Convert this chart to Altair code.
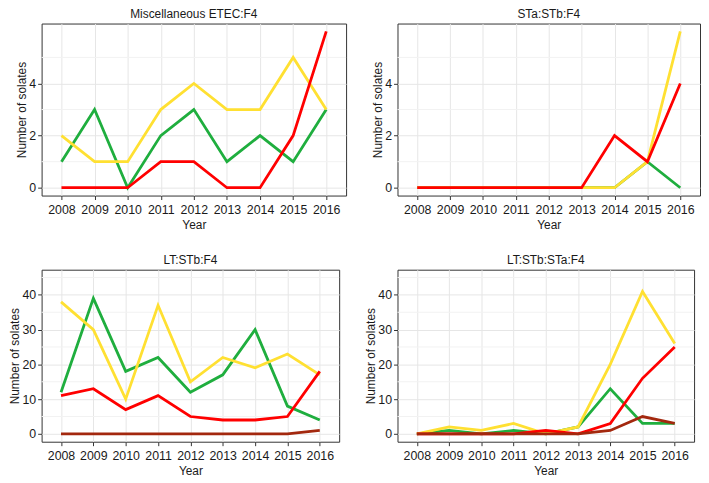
import altair as alt
import pandas as pd

years = [2008, 2009, 2010, 2011, 2012, 2013, 2014, 2015, 2016]

panel_titles = ["Miscellaneous ETEC:F4", "STa:STb:F4", "LT:STb:F4", "LT:STb:STa:F4"]

# series values per panel (green, yellow, red, brown)
misc_green = [1, 3, 0, 2, 3, 1, 2, 1, 3]
misc_yellow = [2, 1, 1, 3, 4, 3, 3, 5, 3]
misc_red = [0, 0, 0, 1, 1, 0, 0, 2, 6]

stastb_green = [0, 0, 0, 0, 0, 0, 0, 1, 0]
stastb_yellow = [0, 0, 0, 0, 0, 0, 0, 1, 6]
stastb_red = [0, 0, 0, 0, 0, 0, 2, 1, 4]

ltstb_green = [12, 39, 18, 22, 12, 17, 30, 8, 4]
ltstb_yellow = [38, 30, 10, 37, 15, 22, 19, 23, 17]
ltstb_red = [11, 13, 7, 11, 5, 4, 4, 5, 18]
ltstb_brown = [0, 0, 0, 0, 0, 0, 0, 0, 1]

ltstbsta_green = [0, 1, 0, 1, 0, 2, 13, 3, 3]
ltstbsta_yellow = [0, 2, 1, 3, 0, 2, 20, 41, 26]
ltstbsta_red = [0, 0, 0, 0, 1, 0, 3, 16, 25]
ltstbsta_brown = [0, 0, 0, 0, 0, 0, 1, 5, 3]

series_colors = {
    "green": "#1FAE3E",
    "yellow": "#FFE032",
    "red": "#FF0000",
    "brown": "#A3280E",
}

panel_series = {
    "Miscellaneous ETEC:F4": {"green": misc_green, "yellow": misc_yellow, "red": misc_red},
    "STa:STb:F4": {"green": stastb_green, "yellow": stastb_yellow, "red": stastb_red},
    "LT:STb:F4": {"green": ltstb_green, "yellow": ltstb_yellow, "red": ltstb_red, "brown": ltstb_brown},
    "LT:STb:STa:F4": {"green": ltstbsta_green, "yellow": ltstbsta_yellow, "red": ltstbsta_red, "brown": ltstbsta_brown},
}

small_ticks = [0, 2, 4]
small_minor = [1, 3, 5]
small_domain = [-0.3, 6.3]
big_ticks = [0, 10, 20, 30, 40]
big_minor = [5, 15, 25, 35, 45]
big_domain = [-2.25, 47.25]

x_domain = [2007.4, 2016.6]

FONT = "Liberation Sans"


def make_panel(name, width, height, ticks, minor, domain):
    rows = []
    for s, vals in panel_series[name].items():
        for yr, v in zip(years, vals):
            rows.append({"series": s, "year": yr, "value": v})
    df = pd.DataFrame(rows)

    def xenc():
        return alt.X(
            "year:Q",
            scale=alt.Scale(domain=x_domain, nice=False, zero=False),
            axis=alt.Axis(values=years, format="d", title="Year", labelFlush=False,
                          labelPadding=4, titlePadding=4),
        )

    def yenc():
        return alt.Y(
            "value:Q",
            scale=alt.Scale(domain=domain, nice=False, zero=False),
            axis=alt.Axis(values=ticks, title="Number of solates", labelPadding=2,
                          titlePadding=0),
        )

    minor_df = pd.DataFrame({"value": minor})
    minor_layer = alt.Chart(minor_df).mark_rule(color="#F2F2F2", strokeWidth=1).encode(y=yenc())

    layers = [minor_layer]
    for s in ["green", "yellow", "red", "brown"]:
        if s not in panel_series[name]:
            continue
        sub = df[df.series == s]
        layers.append(
            alt.Chart(sub).mark_line(color=series_colors[s], strokeWidth=2.8, strokeJoin="miter", clip=True)
            .encode(x=xenc(), y=yenc())
        )
    return alt.layer(*layers).properties(width=width, height=height, title=name)


H = 174
p1 = make_panel(panel_titles[0], 308, H, small_ticks, small_minor, small_domain)
p2 = make_panel(panel_titles[1], 306, H, small_ticks, small_minor, small_domain)
p3 = make_panel(panel_titles[2], 301, H, big_ticks, big_minor, big_domain)
p4 = make_panel(panel_titles[3], 300, H, big_ticks, big_minor, big_domain)

chart = (
    alt.vconcat(
        alt.hconcat(p1, p2, spacing=24),
        alt.hconcat(p3, p4, spacing=24),
        spacing=22,
    )
    .properties(padding={"left": 0, "top": -4, "right": 0, "bottom": 0})
    .configure_view(stroke="#333333", strokeWidth=1)
    .configure_axis(
        domain=False,
        tickColor="#333333",
        tickSize=4,
        tickWidth=1,
        labelFont=FONT,
        labelFontSize=12.5,
        labelColor="#1a1a1a",
        titleFont=FONT,
        titleFontSize=12,
        titleFontWeight="normal",
        titleColor="#1a1a1a",
        gridColor="#E6E6E6",
        gridWidth=1,
    )
    .configure_title(font=FONT, fontSize=12, fontWeight="normal", color="#1a1a1a",
                     offset=3, anchor="middle")
)

chart.save("out.html", embed_options={"renderer": "svg", "actions": False})
